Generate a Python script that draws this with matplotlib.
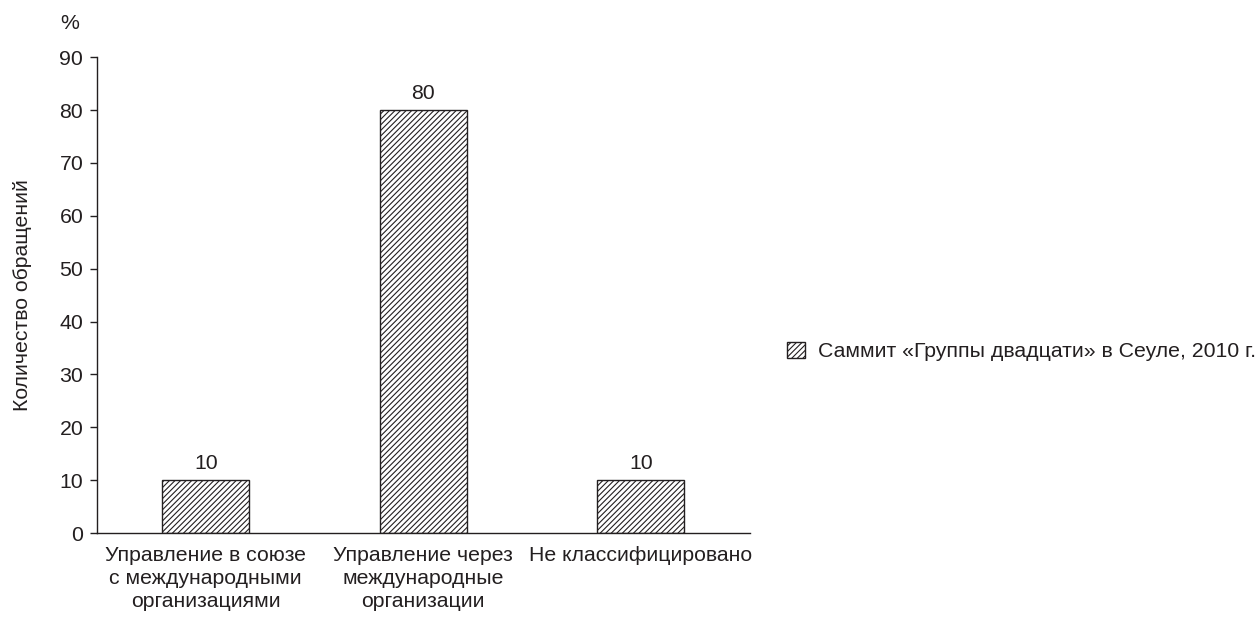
import numpy as np
from matplotlib import pyplot as plt

plt.rcParams['font.family'] = ['Liberation Sans', 'DejaVu Sans']
plt.rcParams['hatch.linewidth'] = 0.8

categories = ["Управление в союзе\nс международными\nорганизациями",
              "Управление через\nмеждународные\nорганизации",
              "Не классифицировано"]
values = [10, 80, 10]
series_name = "Саммит «Группы двадцати» в Сеуле, 2010 г."
y_ticks = [0, 10, 20, 30, 40, 50, 60, 70, 80, 90]

ink = '#231f20'
fs = 15.3

fig = plt.figure(figsize=(12.6, 6.22), dpi=100)
ax = fig.add_axes([0.077, 0.143, 0.518, 0.765])

x = np.arange(len(categories))
bars = ax.bar(x, values, 0.4, color='white', edgecolor=ink, hatch='//////',
              linewidth=1.0, label=series_name)
for b, v in zip(bars, values):
    ax.text(b.get_x() + b.get_width() / 2, v + 1.3, str(v), ha='center', va='bottom',
            fontsize=fs, color=ink)

ax.set_xlim(-0.5, 2.5)
ax.set_ylim(0, 90)
ax.set_yticks(y_ticks)
ax.set_xticks(x)
ax.set_xticklabels(categories, fontsize=fs, color=ink, linespacing=1.27)
ax.tick_params(axis='y', labelsize=fs, colors=ink, length=5, width=1, pad=5)
ax.tick_params(axis='x', length=0, pad=9)
for s in ['top', 'right']:
    ax.spines[s].set_visible(False)
for s in ['left', 'bottom']:
    ax.spines[s].set_color(ink)
    ax.spines[s].set_linewidth(1.0)

ax.set_ylabel("Количество обращений", fontsize=fs, color=ink, labelpad=20)
fig.text(0.055, 0.963, "%", fontsize=fs, color=ink, ha='center', va='center')

fig.legend(*ax.get_legend_handles_labels(), loc='center right',
           bbox_to_anchor=(1.0, 0.435), frameon=False, fontsize=fs,
           handlelength=0.85, handleheight=0.85, handletextpad=0.6,
           borderaxespad=0.1, borderpad=0.1, labelcolor=ink)

fig.savefig('out.png', dpi=100)
